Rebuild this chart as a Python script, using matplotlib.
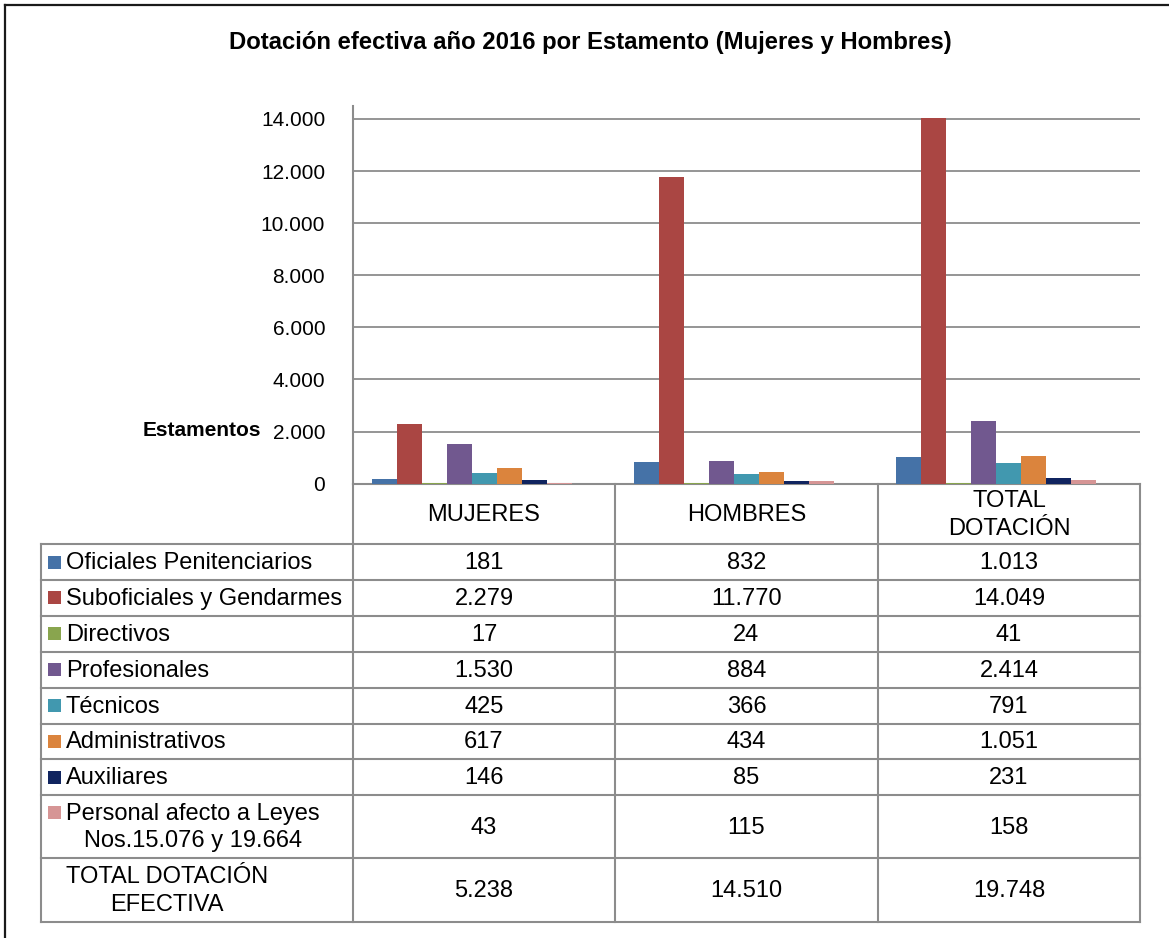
import matplotlib.pyplot as plt
import numpy as np

plt.rcParams['font.family'] = ['Liberation Sans', 'DejaVu Sans']

# Data
groups = ["MUJERES", "HOMBRES", "TOTAL\nDOTACIÓN"]
series = [
    "Oficiales Penitenciarios",
    "Suboficiales y Gendarmes",
    "Directivos",
    "Profesionales",
    "Técnicos",
    "Administrativos",
    "Auxiliares",
    "Personal afecto a Leyes\nNos.15.076 y 19.664",
]
mujeres = [181, 2279, 17, 1530, 425, 617, 146, 43]
hombres = [832, 11770, 24, 884, 366, 434, 85, 115]
total = [1013, 14049, 41, 2414, 791, 1051, 231, 158]
total_row_label = "TOTAL DOTACIÓN\nEFECTIVA"
total_row = [5238, 14510, 19748]
yticks = [0, 2000, 4000, 6000, 8000, 10000, 12000, 14000]

colors = ["#4572A7", "#AA4643", "#89A54E", "#71588F",
          "#4198AF", "#DB843D", "#10245F", "#D69595"]


def fmt(v):
    return f"{v:,}".replace(",", ".")


W, H = 1169, 938
fig = plt.figure(figsize=(W / 100, H / 100), dpi=100)

# overlay in pixel coordinates for frame, title and data table
ov = fig.add_axes([0, 0, 1, 1])
ov.set_xlim(0, W)
ov.set_ylim(H, 0)
ov.axis("off")

frame_c = "#1a1a1a"
ov.plot([5, 5], [5, H], color=frame_c, lw=1.6)
ov.plot([5, W], [5, 5], color=frame_c, lw=1.6)

ov.text(590, 43, "Dotación efectiva año 2016 por Estamento (Mujeres y Hombres)",
        ha="center", va="center", fontsize=17.2, fontweight="bold")
ov.text(261, 430, "Estamentos", ha="right", va="center",
        fontsize=15, fontweight="bold")

# chart
x0, x1, ytop, ybot = 353, 1140, 106, 483.7
ax = fig.add_axes([x0 / W, 1 - ybot / H, (x1 - x0) / W, (ybot - ytop) / H])
ax.set_facecolor("none")
grid_c = "#8C8C8C"

n_slots = 9  # the ninth slot (total row) is not drawn
w = 25 / ((x1 - x0) / 3)
xs = np.arange(len(groups))
for i, name in enumerate(series):
    vals = [mujeres[i], hombres[i], total[i]]
    ax.bar(xs + (i - (n_slots - 1) / 2) * w, vals, width=w,
           color=colors[i], linewidth=0, zorder=3)

ax.set_xlim(-0.5, 2.5)
ax.set_ylim(0, 14000 * (ybot - ytop) / (ybot - 119))
ax.set_yticks(yticks)
ax.set_yticklabels([fmt(t) for t in yticks], fontsize=15)
ax.tick_params(axis="y", length=0, pad=20)
ax.set_xticks([])
ax.grid(axis="y", color=grid_c, lw=1.3, zorder=0)
for s in ["top", "right", "bottom"]:
    ax.spines[s].set_visible(False)
ax.spines["left"].set_color(grid_c)
ax.spines["left"].set_linewidth(1.5)

# data table
tc = "#8C8C8C"
tlw = 1.5
col_x = [353, 615, 878, 1140]
left_x = 41
header_top = 483.7
rows_y = [544.3, 580, 616, 652, 687.7, 723.7, 759.3, 795, 858.3, 921.7]

ov.plot([col_x[0], col_x[-1]], [header_top, header_top], color=tc, lw=tlw)
for cx in col_x:
    ov.plot([cx, cx], [header_top, rows_y[-1]], color=tc, lw=tlw)
ov.plot([left_x, left_x], [rows_y[0], rows_y[-1]], color=tc, lw=tlw)
for ry in rows_y:
    ov.plot([left_x, col_x[-1]], [ry, ry], color=tc, lw=tlw)

fs = 17
ls = 1.3
centers = [(col_x[k] + col_x[k + 1]) / 2 for k in range(3)]
for k, g in enumerate(groups):
    ov.text(centers[k], (header_top + rows_y[0]) / 2 + 1, g, ha="center",
            va="center", fontsize=fs, linespacing=ls)

labels = series + [total_row_label]
table_vals = [[mujeres[i], hombres[i], total[i]] for i in range(len(series))] + [total_row]
for r, lab in enumerate(labels):
    yc = (rows_y[r] + rows_y[r + 1]) / 2
    ov.text(66, yc + 1, lab, ha="left", va="center", fontsize=fs,
            multialignment="center", linespacing=ls)
    if r < len(series):
        two = "\n" in lab
        sy = yc - 14 if two else yc
        ov.add_patch(plt.Rectangle((48, sy - 6.5), 13, 13, color=colors[r], lw=0))
    for k in range(3):
        ov.text(centers[k], yc + 1, fmt(table_vals[r][k]), ha="center",
                va="center", fontsize=fs)

fig.savefig("out.png", dpi=100)
